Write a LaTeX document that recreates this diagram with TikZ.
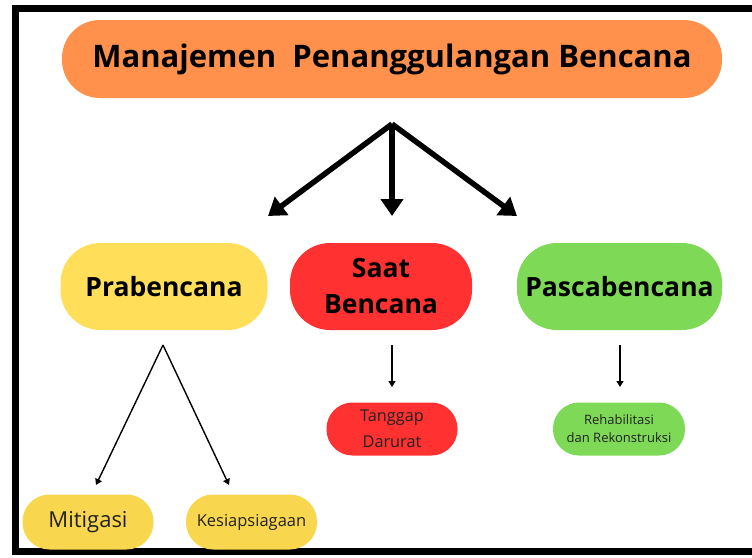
\documentclass[tikz,border=0pt]{standalone}
\usepackage{fontspec}
\setmainfont{Open Sans}
\usetikzlibrary{arrows.meta}
\definecolor{corange}{HTML}{FF914D}
\definecolor{cyellow}{HTML}{FFDE59}
\definecolor{cyellowb}{HTML}{F8D64E}
\definecolor{cred}{HTML}{FF3131}
\definecolor{cgreen}{HTML}{7ED957}
\definecolor{ctext}{HTML}{222222}
\tikzset{
  pill/.style={inner sep=0pt, align=center, text=black},
  bigarrow/.style={line width=5.5pt, -{Triangle[width=22pt,length=17pt]}},
  thinarrow/.style={line width=1.4pt, -{Triangle[width=7pt,length=6pt]}},
}
\begin{document}
\begin{tikzpicture}[x=1pt,y=-1pt]
\useasboundingbox (0,0) rectangle (752,557);
\fill[white] (0,0) rectangle (752,557);
% frame
\draw[line width=7pt] (15.5,8.5) rectangle (770,551);
% title
\node[pill, fill=corange, rounded corners=38pt, minimum width=660pt, minimum height=78pt,
      font=\fontsize{31}{36}\selectfont\bfseries] (title) at (392,59) {Manajemen\ \ Penanggulangan Bencana};
% second row
\node[pill, fill=cyellow, rounded corners=40pt, minimum width=207pt, minimum height=87pt,
      font=\fontsize{26.5}{30}\selectfont\bfseries] (pra) at (164,286.5) {Prabencana};
\node[pill, fill=cred, rounded corners=40pt, minimum width=182pt, minimum height=87pt,
      font=\fontsize{26.5}{36}\selectfont\bfseries] (saat) at (381,286.5) {Saat\\Bencana};
\node[pill, fill=cgreen, rounded corners=40pt, minimum width=205pt, minimum height=87pt,
      font=\fontsize{26.5}{30}\selectfont\bfseries] (pasca) at (619.5,286.5) {Pascabencana};
% big arrows
\coordinate (fork) at (392,124);
\coordinate (endL) at (268,216);
\coordinate (endM) at (392,216);
\coordinate (endR) at (517,216);
\draw[bigarrow] (fork) -- (endL);
\draw[bigarrow] (fork) -- (endM);
\draw[bigarrow] (fork) -- (endR);
% third row
\node[pill, fill=cred, rounded corners=26pt, minimum width=131pt, minimum height=53pt,
      text=ctext, font=\fontsize{16.3}{26}\selectfont] (tang) at (392,429) {Tanggap\\Darurat};
\node[pill, fill=cgreen, rounded corners=26pt, minimum width=132pt, minimum height=53pt,
      text=ctext, font=\fontsize{13}{18}\selectfont] (reha) at (619,429) {Rehabilitasi\\dan Rekonstruksi};
\node[pill, fill=cyellowb, rounded corners=27pt, minimum width=131pt, minimum height=55pt,
      text=ctext, font=\fontsize{22}{26}\selectfont] (miti) at (88,522) {Mitigasi};
\node[pill, fill=cyellowb, rounded corners=27pt, minimum width=131pt, minimum height=55pt,
      text=ctext, font=\fontsize{16.5}{20}\selectfont] (kesi) at (251.5,522) {Kesiapsiagaan};
% thin arrows
\coordinate (praB) at (163,345);
\draw[thinarrow] (praB) -- (96,485);
\draw[thinarrow] (praB) -- (229,485);
\draw[thinarrow] (392,345) -- (392,387);
\draw[thinarrow] (620,345) -- (620,387);
\end{tikzpicture}
\end{document}
